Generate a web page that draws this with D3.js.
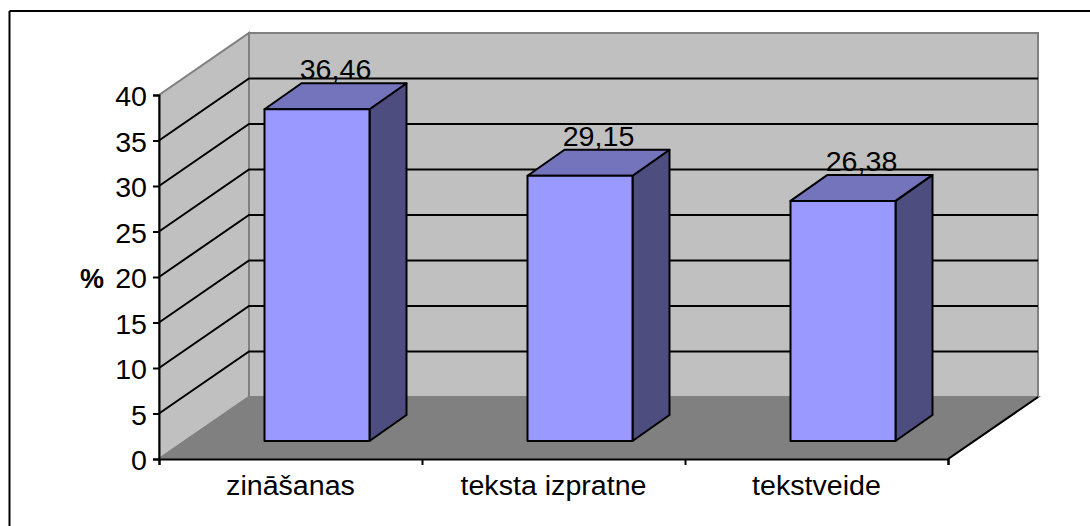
<!DOCTYPE html>
<html>
<head>
<meta charset="utf-8">
<script src="https://cdn.jsdelivr.net/npm/d3@7"></script>
<style>
  html, body { margin: 0; padding: 0; background: #fff; }
  svg { display: block; }
  text { font-family: "Liberation Sans", Arial, sans-serif; fill: #000; }
</style>
</head>
<body>
<div id="chart-container"></div>
<script>
const categories = ['zināšanas', 'teksta izpratne', 'tekstveide']
const values = [36.46, 29.15, 26.38]
const valueLabels = ['36,46', '29,15', '26,38']
const yTicks = [0, 5, 10, 15, 20, 25, 30, 35, 40]

const width = 1090
const height = 526
const fontSize = 27
const stretch = 1.06

// front plane of the 3d box, and how far back it goes
const x = d3.scaleBand().domain(categories).range([159, 948])
const y = d3.scaleLinear().domain([0, 40]).range([459, 95])
const xTick = d3.scaleLinear().domain([0, categories.length]).range([159, 948])
const depth = {dx: 90, dy: -62}
const barDepth = {dx: 37, dy: -26}
const barWidth = 105

const left = x.range()[0]
const right = x.range()[1]
const bottom = y(0)
const top40 = y(40)

const svg = d3.select('#chart-container')
    .append('svg')
    .attr('width', width)
    .attr('height', height)

const poly = pts => pts.map(p => p.join(',')).join(' ')

// only the top and left chart border survive in the picture
svg.append('line').attr('x1', 9.5).attr('x2', width).attr('y1', 11).attr('y2', 11)
    .attr('stroke', '#000').attr('stroke-width', 2)
svg.append('line').attr('x1', 9.5).attr('x2', 9.5).attr('y1', 11).attr('y2', height)
    .attr('stroke', '#000').attr('stroke-width', 2)

// left wall, back wall, floor
svg.append('polygon')
    .attr('points', poly([[left, bottom], [left + depth.dx, bottom + depth.dy], [left + depth.dx, top40 + depth.dy], [left, top40]]))
    .attr('fill', '#c0c0c0').attr('stroke', '#808080').attr('stroke-width', 2)
svg.append('polygon')
    .attr('points', poly([[left + depth.dx, bottom + depth.dy], [right + depth.dx, bottom + depth.dy], [right + depth.dx, top40 + depth.dy], [left + depth.dx, top40 + depth.dy]]))
    .attr('fill', '#c0c0c0').attr('stroke', '#808080').attr('stroke-width', 2)
svg.append('polygon')
    .attr('points', poly([[left, bottom], [right, bottom], [right + depth.dx, bottom + depth.dy], [left + depth.dx, bottom + depth.dy]]))
    .attr('fill', '#808080').attr('stroke', '#808080').attr('stroke-width', 2)
svg.append('line')
    .attr('x1', right).attr('y1', bottom)
    .attr('x2', right + depth.dx).attr('y2', bottom + depth.dy)
    .attr('stroke', '#000').attr('stroke-width', 2)

// gridlines go along the left wall and then across the back
svg.selectAll('.grid')
    .data(yTicks.slice(1, -1))
    .join('polyline')
    .attr('class', 'grid')
    .attr('points', d => poly([[left, y(d)], [left + depth.dx, y(d) + depth.dy], [right + depth.dx, y(d) + depth.dy]]))
    .attr('fill', 'none')
    .attr('stroke', '#000')
    .attr('stroke-width', 2)

// axes
const yAxis = svg.append('g')
    .attr('transform', `translate(${left},0)`)
    .call(d3.axisLeft(y).tickValues(yTicks).tickSize(6).tickPadding(6).tickFormat(d3.format('d')))
yAxis.selectAll('.domain').attr('stroke', '#000').attr('stroke-width', 2)
yAxis.selectAll('.tick line').attr('stroke', '#000').attr('stroke-width', 2)
yAxis.selectAll('.tick text')
    .style('font-size', fontSize + 'px')
    .attr('transform', `scale(${stretch},1)`)
    .attr('x', -12 / stretch)
    .attr('dy', '0.4em')

const xAxis = svg.append('g')
    .attr('transform', `translate(0,${bottom})`)
    .call(d3.axisBottom(xTick).tickValues(d3.range(categories.length + 1)).tickSize(6).tickFormat(''))
xAxis.selectAll('.domain').attr('stroke', '#000').attr('stroke-width', 2)
xAxis.selectAll('.tick line').attr('stroke', '#000').attr('stroke-width', 2)

const xLabels = svg.append('g')
    .attr('transform', `translate(0,${bottom})`)
    .call(d3.axisBottom(x).tickSize(0).tickPadding(0))
xLabels.select('.domain').remove()
xLabels.selectAll('.tick text')
    .style('font-size', fontSize + 'px')
    .attr('dy', null)
    .attr('y', 36)
    .attr('transform', `scale(${stretch},1)`)

svg.append('text')
    .attr('x', 92)
    .attr('y', 288)
    .attr('text-anchor', 'middle')
    .style('font-size', '27px')
    .style('font-weight', 'bold')
    .text('%')

// bars: shifted into the middle of the floor depth
const shiftX = (depth.dx - barDepth.dx) / 2
const shiftY = (depth.dy - barDepth.dy) / 2
const barData = categories.map((c, i) => ({
    x0: x(c) + x.bandwidth() / 2 - barWidth / 2 + shiftX,
    x1: x(c) + x.bandwidth() / 2 + barWidth / 2 + shiftX,
    y0: y(0) + shiftY,
    y1: y(values[i]) + shiftY,
    label: valueLabels[i]
}))

const bars = svg.selectAll('.bar').data(barData).join('g').attr('class', 'bar')
    .attr('stroke', '#000').attr('stroke-width', 2).attr('stroke-linejoin', 'round')
bars.append('polygon')
    .attr('points', d => poly([[d.x1, d.y0], [d.x1 + barDepth.dx, d.y0 + barDepth.dy], [d.x1 + barDepth.dx, d.y1 + barDepth.dy], [d.x1, d.y1]]))
    .attr('fill', '#4d4d80')
bars.append('polygon')
    .attr('points', d => poly([[d.x0, d.y1], [d.x1, d.y1], [d.x1 + barDepth.dx, d.y1 + barDepth.dy], [d.x0 + barDepth.dx, d.y1 + barDepth.dy]]))
    .attr('fill', '#7474bd')
bars.append('rect')
    .attr('x', d => d.x0)
    .attr('y', d => d.y1)
    .attr('width', d => d.x1 - d.x0)
    .attr('height', d => d.y0 - d.y1)
    .attr('fill', '#9999ff')

svg.selectAll('.value')
    .data(barData)
    .join('text')
    .attr('class', 'value')
    .attr('text-anchor', 'middle')
    .attr('transform', d => `translate(${(d.x0 + d.x1) / 2 + barDepth.dx / 2},${d.y1 + barDepth.dy - 4}) scale(${stretch},1)`)
    .style('font-size', fontSize + 'px')
    .text(d => d.label)
</script>
</body>
</html>
